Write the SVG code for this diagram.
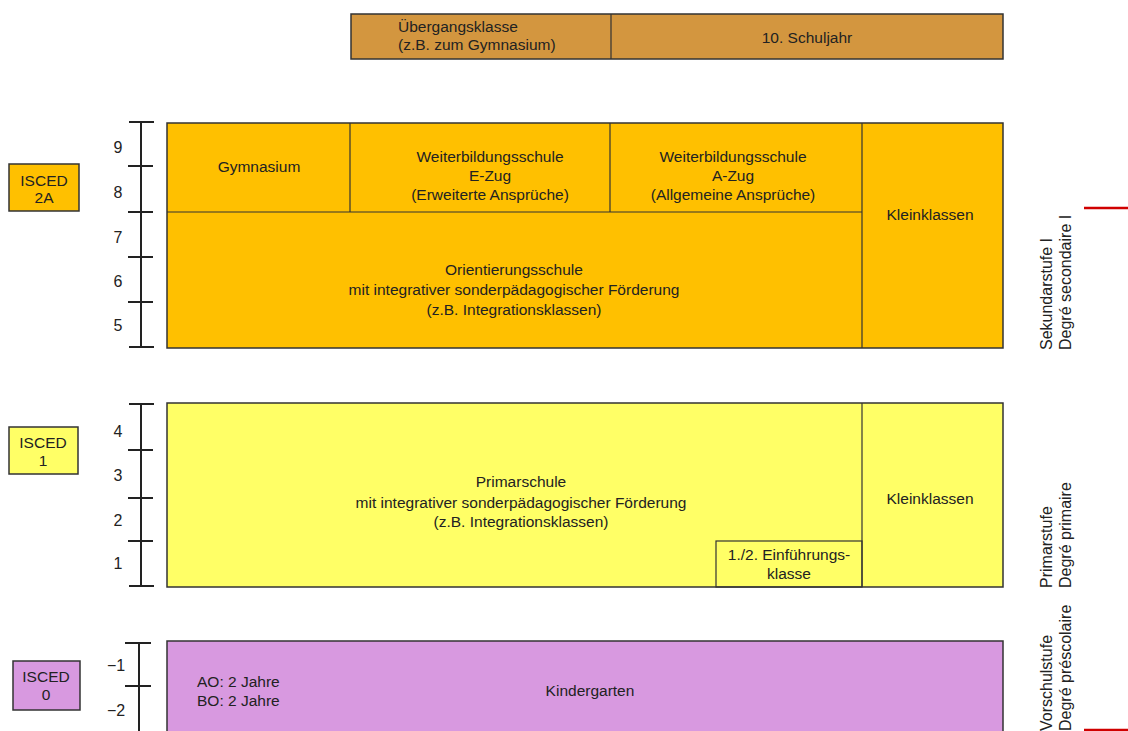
<svg xmlns="http://www.w3.org/2000/svg" width="1128" height="731" viewBox="0 0 1128 731">
<style>
text{font-family:"Liberation Sans",Arial,sans-serif;font-size:15.5px;fill:#222}
.c{text-anchor:middle}
.rot{font-size:16px}
.box{stroke:#333;stroke-width:1.5}
.div{stroke:#333;stroke-width:1.2;fill:none}
.lad{stroke:#222;stroke-width:2;fill:none}
.num{font-size:16px;text-anchor:middle}
.or{fill:#FFC000}.ye{fill:#FFFF66}.pu{fill:#D899E0}.br{fill:#D3963F}
.red{stroke:#D00000;stroke-width:2.5}
</style>
<rect width="1128" height="731" fill="#fff"/>
<g id="top">
<rect class="box br" x="351" y="14" width="652" height="45"/>
<line class="div" x1="611" y1="14" x2="611" y2="59"/>
<text x="398" y="32">Übergangsklasse</text>
<text x="398" y="50">(z.B. zum Gymnasium)</text>
<text class="c" x="807" y="43">10. Schuljahr</text>
</g>
<g id="sek1">
<rect class="box or" x="167" y="123" width="836" height="225"/>
<line class="div" x1="167" y1="212" x2="862" y2="212"/>
<line class="div" x1="350" y1="123" x2="350" y2="212"/>
<line class="div" x1="610" y1="123" x2="610" y2="212"/>
<line class="div" x1="862" y1="123" x2="862" y2="348"/>
<text class="c" x="259" y="172">Gymnasium</text>
<text class="c" x="490" y="162">Weiterbildungsschule</text>
<text class="c" x="490" y="181">E-Zug</text>
<text class="c" x="490" y="200">(Erweiterte Ansprüche)</text>
<text class="c" x="733" y="162">Weiterbildungsschule</text>
<text class="c" x="733" y="181">A-Zug</text>
<text class="c" x="733" y="200">(Allgemeine Ansprüche)</text>
<text class="c" x="514" y="275">Orientierungsschule</text>
<text class="c" x="514" y="295">mit integrativer sonderpädagogischer Förderung</text>
<text class="c" x="514" y="315">(z.B. Integrationsklassen)</text>
<text class="c" x="930" y="220">Kleinklassen</text>
</g>
<g id="prim">
<rect class="box ye" x="167" y="403" width="836" height="184"/>
<line class="div" x1="862" y1="403" x2="862" y2="587"/>
<rect class="div" x="716" y="541" width="146" height="46"/>
<text class="c" x="521" y="487">Primarschule</text>
<text class="c" x="521" y="508">mit integrativer sonderpädagogischer Förderung</text>
<text class="c" x="521" y="527">(z.B. Integrationsklassen)</text>
<text class="c" x="930" y="504">Kleinklassen</text>
<text class="c" x="789" y="560">1./2. Einführungs-</text>
<text class="c" x="789" y="579">klasse</text>
</g>
<g id="vor">
<rect class="box pu" x="167" y="641" width="836" height="95"/>
<text x="197" y="687">AO: 2 Jahre</text>
<text x="197" y="706">BO: 2 Jahre</text>
<text class="c" x="590" y="696">Kindergarten</text>
</g>
<g id="ladders">
<path class="lad" d="M141 122V347M129 122H154M128 166H153M128 212H153M128 257H153M128 302H153M129 347H154"/>
<text class="num" x="118" y="153">9</text>
<text class="num" x="118" y="198">8</text>
<text class="num" x="118" y="243">7</text>
<text class="num" x="118" y="287">6</text>
<text class="num" x="118" y="331">5</text>
<path class="lad" d="M141 404V586M129 404H154M128 450H153M128 498H153M128 541H153M129 586H154"/>
<text class="num" x="118" y="437">4</text>
<text class="num" x="118" y="481">3</text>
<text class="num" x="118" y="526">2</text>
<text class="num" x="118" y="569">1</text>
<path class="lad" d="M139 643V731M125 643H151M125 686H151"/>
<text class="num" x="116" y="671">−1</text>
<text class="num" x="116" y="716">−2</text>
</g>
<g id="isced2a">
<rect class="box or" x="9" y="164" width="70" height="47"/>
<text class="c" x="44" y="186">ISCED</text>
<text class="c" x="44" y="203">2A</text>
</g>
<g id="isced1">
<rect class="box ye" x="9" y="427" width="69" height="47"/>
<text class="c" x="43" y="448">ISCED</text>
<text class="c" x="43" y="466">1</text>
</g>
<g id="isced0">
<rect class="box pu" x="13" y="661" width="67" height="49"/>
<text class="c" x="46" y="682">ISCED</text>
<text class="c" x="46" y="700">0</text>
</g>
<g id="stufen">
<text class="rot" transform="translate(1052,350) rotate(-90)">Sekundarstufe I</text>
<text class="rot" transform="translate(1071,350) rotate(-90)">Degré secondaire I</text>
<text class="rot" transform="translate(1052,588) rotate(-90)">Primarstufe</text>
<text class="rot" transform="translate(1071,588) rotate(-90)">Degré primaire</text>
<text class="rot" transform="translate(1052,731) rotate(-90)">Vorschulstufe</text>
<text class="rot" transform="translate(1071,731) rotate(-90)">Degré préscolaire</text>
<line class="red" x1="1084" y1="208" x2="1128" y2="208"/>
<line class="red" x1="1084" y1="730" x2="1128" y2="730"/>
</g>
</svg>
